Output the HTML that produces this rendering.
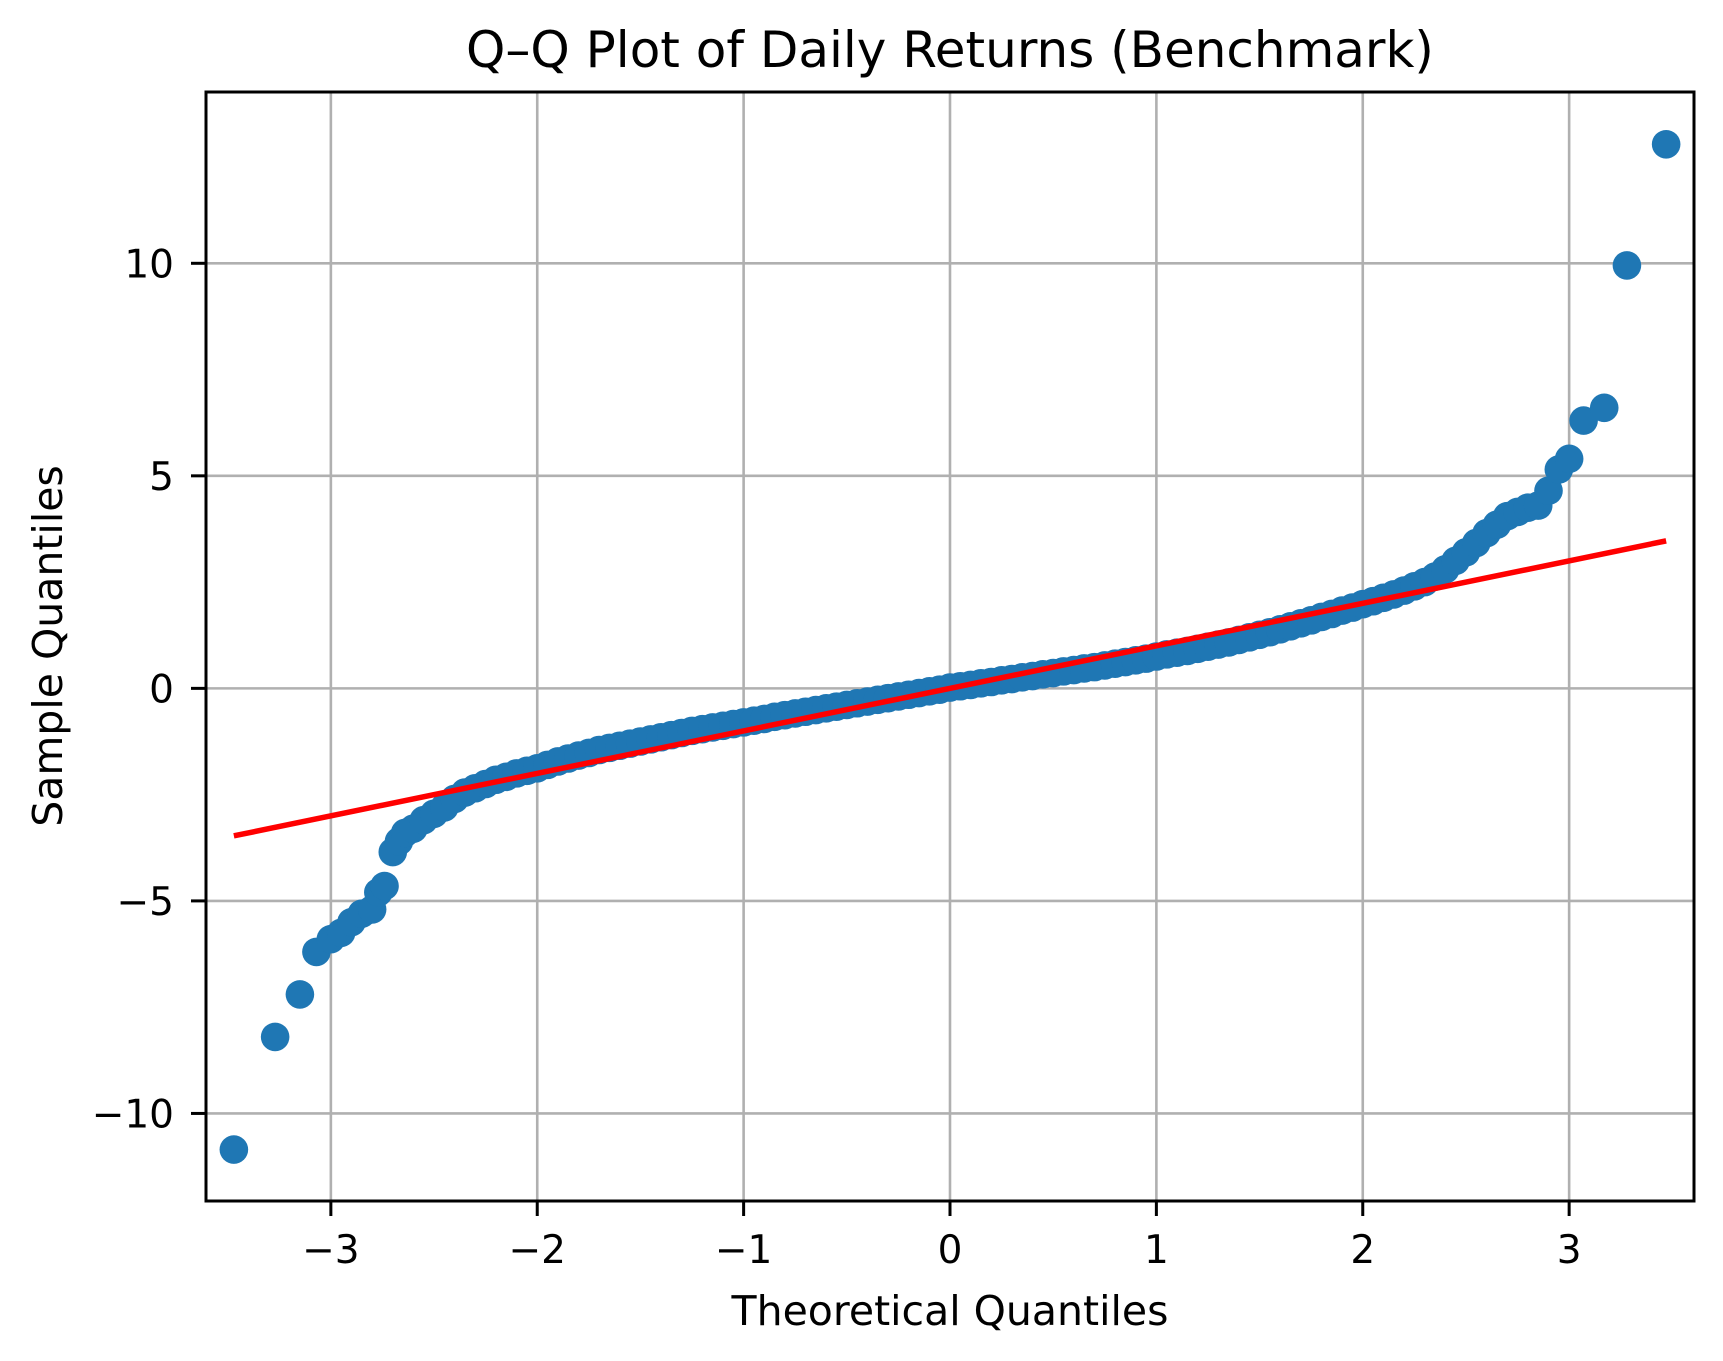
<!DOCTYPE html>
<html><head><meta charset="utf-8"><style>
html,body{margin:0;padding:0;background:#fff;}
svg{display:block;font-family:"DejaVu Sans","Liberation Sans",sans-serif;}
</style></head><body>
<svg id="chart" width="1723" height="1361" viewBox="0 0 1723 1361" xmlns="http://www.w3.org/2000/svg">
<rect width="1723" height="1361" fill="#fff"/>
<g id="grid"></g>
<g id="marks"></g>
<g id="ref"></g>
<rect x="206" y="92" width="1488" height="1109" fill="none" stroke="#000" stroke-width="3"/>
<g id="ticks"></g>
<text x="950" y="67" font-size="50" text-anchor="middle">Q–Q Plot of Daily Returns (Benchmark)</text>
<text x="950" y="1325" font-size="41" text-anchor="middle">Theoretical Quantiles</text>
<text x="0" y="0" font-size="41" text-anchor="middle" transform="translate(62,646) rotate(-90)">Sample Quantiles</text>
</svg>
<script>
const theoretical = [-3.47,-3.27,-3.15,-3.07,-3.0,-2.95,-2.9,-2.85,-2.8,-2.77,-2.74,-2.7,-2.67,-2.64,
-2.6,-2.55,-2.5,-2.45,-2.4,-2.35,-2.3,-2.25,-2.2,-2.15,-2.1,-2.05,-2.0,-1.95,-1.9,-1.85,-1.8,-1.75,-1.7,-1.65,-1.6,-1.55,-1.5,-1.45,-1.4,-1.35,-1.3,-1.25,-1.2,-1.15,-1.1,-1.05,-1.0,-0.95,-0.9,-0.85,-0.8,-0.75,-0.7,-0.65,-0.6,-0.55,-0.5,-0.45,-0.4,-0.35,-0.3,-0.25,-0.2,-0.15,-0.1,-0.05,
0,0.05,0.1,0.15,0.2,0.25,0.3,0.35,0.4,0.45,0.5,0.55,0.6,0.65,0.7,0.75,0.8,0.85,0.9,0.95,1.0,1.05,1.1,1.15,1.2,1.25,1.3,1.35,1.4,1.45,1.5,1.55,1.6,1.65,1.7,1.75,1.8,1.85,1.9,1.95,2.0,2.05,2.1,2.15,2.2,2.25,2.3,2.35,2.4,2.45,2.5,2.55,2.6,2.65,2.7,2.75,2.8,
2.85,2.9,2.95,3.0,3.07,3.17,3.28,3.47];
const sample = [-10.85,-8.2,-7.2,-6.2,-5.9,-5.75,-5.5,-5.3,-5.2,-4.8,-4.65,-3.85,-3.6,-3.4,
-3.3,-3.1,-2.95,-2.8,-2.6,-2.45,-2.35,-2.25,-2.15,-2.08,-2.0,-1.94,-1.88,-1.8,-1.72,-1.65,-1.58,-1.52,-1.45,-1.4,-1.35,-1.3,-1.25,-1.2,-1.15,-1.1,-1.05,-1.0,-0.96,-0.92,-0.88,-0.84,-0.8,-0.76,-0.72,-0.67,-0.63,-0.59,-0.55,-0.51,-0.47,-0.43,-0.39,-0.35,-0.31,-0.27,-0.23,-0.19,-0.15,-0.11,-0.07,-0.03,
0.02,0.05,0.08,0.12,0.15,0.19,0.22,0.26,0.29,0.33,0.36,0.4,0.43,0.47,0.5,0.54,0.58,0.62,0.66,0.7,0.75,0.8,0.84,0.88,0.93,0.98,1.03,1.08,1.14,1.2,1.26,1.32,1.39,1.46,1.53,1.6,1.68,1.75,1.83,1.9,1.98,2.05,2.13,2.21,2.3,2.4,2.5,2.63,2.8,3.0,3.2,3.42,3.65,3.85,4.05,4.15,4.25,
4.3,4.65,5.15,5.4,6.3,6.6,9.95,12.8];
const lineX = [-3.47,3.47];
const lineY = [-3.47,3.47];
const xTicks = [-3,-2,-1,0,1,2,3];
const yTicks = [-10,-5,0,5,10];
const xTickLabels = ["−3","−2","−1","0","1","2","3"];
const yTickLabels = ["−10","−5","0","5","10"];

const X0=206,X1=1694,Y0=92,Y1=1201,xmin=-3.605,xmax=3.605,ymin=-12.06,ymax=14.03;
function sx(v){return X0+(v-xmin)/(xmax-xmin)*(X1-X0);}
function sy(v){return Y1-(v-ymin)/(ymax-ymin)*(Y1-Y0);}
const NS="http://www.w3.org/2000/svg";
function mk(tag,attrs,parent){const e=document.createElementNS(NS,tag);for(const k in attrs)e.setAttribute(k,attrs[k]);parent.appendChild(e);return e;}
const grid=document.getElementById('grid'),ticks=document.getElementById('ticks'),marks=document.getElementById('marks'),ref=document.getElementById('ref');
xTicks.forEach((t,i)=>{
  const g=mk('line',{x1:sx(t),x2:sx(t),y1:Y0,y2:Y1,stroke:'#b0b0b0','stroke-width':2.6},grid);
  
  
  const tk=mk('line',{x1:sx(t),x2:sx(t),y1:Y1,y2:Y1+15,stroke:'#000','stroke-width':3},ticks);
  
  
  const tx=mk('text',{x:sx(t),y:1263,'font-size':39,'text-anchor':'middle'},ticks);
  tx.textContent=xTickLabels[i];
  
  
});
yTicks.forEach((t,i)=>{
  const g=mk('line',{x1:X0,x2:X1,y1:sy(t),y2:sy(t),stroke:'#b0b0b0','stroke-width':2.6},grid);
  
  
  const tk=mk('line',{x1:X0-15,x2:X0,y1:sy(t),y2:sy(t),stroke:'#000','stroke-width':3},ticks);
  
  
  const tx=mk('text',{x:174,y:sy(t)+14,'font-size':39,'text-anchor':'end'},ticks);
  tx.textContent=yTickLabels[i];
  
  
});
theoretical.forEach((t,i)=>{
  const c=mk('circle',{cx:sx(t),cy:sy(sample[i]),r:14.3,fill:'#1f77b4'},marks);
  
  
});
const l=mk('line',{x1:sx(lineX[0]),y1:sy(lineY[0]),x2:sx(lineX[1]),y2:sy(lineY[1]),stroke:'#ff0000','stroke-width':5.5},ref);


</script>
</body></html>
